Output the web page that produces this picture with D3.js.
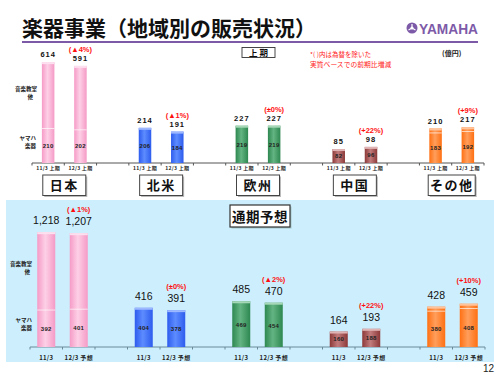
<!DOCTYPE html>
<html><head><meta charset="utf-8">
<script src="https://cdn.jsdelivr.net/npm/d3@7"></script>
<style>html,body{margin:0;padding:0;background:#fff}svg{display:block}</style>
</head><body>
<script>
const regions = ["日本","北米","欧州","中国","その他"];
const h1Total = [[614,591],[214,191],[227,227],[85,98],[210,217]];
const h1Inst  = [[210,202],[206,184],[219,219],[82,96],[183,192]];
const h1Change = ["(▲4%)","(▲1%)","(±0%)","(+22%)","(+9%)"];
const fyTotal = [[1218,1207],[416,391],[485,470],[164,193],[428,459]];
const fyInst  = [[392,401],[404,378],[469,454],[160,188],[380,408]];
const fyChange = ["(▲1%)","(±0%)","(▲2%)","(+22%)","(+10%)"];
const h1Ticks = ["11/3 上期","12/3 上期"];
const fyTicks = ["11/3","12/3 予想"];
const colors = [
  {edge:"#f59ac6", mid:"#fdd0e6", cap:"#fde0ef"},
  {edge:"#2e5cee", mid:"#5d8cff", cap:"#9db8ff"},
  {edge:"#2e8850", mid:"#63b482", cap:"#a6d8b8"},
  {edge:"#8c3838", mid:"#c27c7c", cap:"#e0b4b4"},
  {edge:"#ff7012", mid:"#ff9e5c", cap:"#ffc49c"}
];

const W=500,H=375;
const svg=d3.select("body").append("svg").attr("width",W).attr("height",H);
const defs=svg.append("defs");
colors.forEach((c,i)=>{
  const g=defs.append("linearGradient").attr("id","g"+i).attr("x1","0").attr("x2","1").attr("y1","0").attr("y2","0");
  g.append("stop").attr("offset","0%").attr("stop-color",c.edge);
  g.append("stop").attr("offset","45%").attr("stop-color",c.mid);
  g.append("stop").attr("offset","100%").attr("stop-color",c.edge);
});
const JP="'Noto Sans CJK JP','Noto Sans',sans-serif";
const LS="'Liberation Sans',Arial,sans-serif";

// title
svg.append("text").attr("x",22).attr("y",36).attr("font-family",JP).attr("font-weight","bold")
  .attr("font-size",21).attr("fill","#111").text("楽器事業（地域別の販売状況）");
svg.append("rect").attr("x",22).attr("y",41).attr("width",456).attr("height",2).attr("fill","#7d5aa8");
// logo
const purple="#7d5aa8";
svg.append("circle").attr("cx",412).attr("cy",28).attr("r",5.5).attr("fill",purple);
for(let k=0;k<3;k++){
  const a=k*Math.PI*2/3 - Math.PI/2;
  svg.append("line").attr("x1",412).attr("y1",28).attr("x2",412+4*Math.cos(a)).attr("y2",28+4*Math.sin(a))
    .attr("stroke","#fff").attr("stroke-width",1.2);
}
svg.append("circle").attr("cx",412).attr("cy",28).attr("r",1.6).attr("fill","#fff");
svg.append("text").attr("x",419).attr("y",33.5).attr("font-family",LS).attr("font-weight","bold")
  .attr("font-size",14).attr("fill",purple).attr("textLength",59).attr("lengthAdjust","spacingAndGlyphs").text("YAMAHA");

// bottom panel
svg.append("rect").attr("x",6).attr("y",200).attr("width",488).attr("height",162).attr("fill","#cdeffd");

function slotsFor(){
  const s=[];
  regions.forEach((r,i)=>{s.push(i+"a");s.push(i+"b");if(i<regions.length-1)s.push("gap"+i);});
  return s;
}

function section(o){
  const x=d3.scaleBand().domain(slotsFor()).range(o.xr).padding(0);
  const y=d3.scaleLinear().domain(o.yd).range(o.yr);
  const g=svg.append("g");
  const base=y(0);
  g.append("line").attr("x1",o.xr[0]).attr("x2",o.xr[1]).attr("y1",base).attr("y2",base)
    .attr("stroke",o.axisColor).attr("stroke-width",1);
  const bounds=x.domain().map(d=>x(d)).concat([o.xr[1]]);
  bounds.forEach(b=>g.append("line").attr("x1",b).attr("x2",b).attr("y1",base).attr("y2",base+2.5)
    .attr("stroke",o.axisColor).attr("stroke-width",1));
  regions.forEach((r,i)=>{
    ["a","b"].forEach((s,j)=>{
      const cx=x(i+s)+x.bandwidth()/2;
      const tot=o.total[i][j], inst=o.inst[i][j];
      const bx=cx-o.bw/2;
      g.append("rect").attr("x",bx).attr("y",y(tot)).attr("width",o.bw).attr("height",base-y(tot)).attr("fill","url(#g"+i+")");
      g.append("rect").attr("x",bx).attr("y",y(tot)).attr("width",o.bw).attr("height",2).attr("fill",colors[i].cap);
      if(base-y(tot) - (base-y(inst)) > 3){
        g.append("line").attr("x1",bx).attr("x2",bx+o.bw).attr("y1",y(inst)).attr("y2",y(inst))
          .attr("stroke","#fff").attr("stroke-width",0.8).attr("opacity",0.85);
      }
      g.append("text").attr("x",cx).attr("y",(base+y(inst))/2+2).attr("text-anchor","middle")
        .attr("font-family",LS).attr("font-weight","bold").attr("font-size",o.innerFs).attr("letter-spacing",0.3)
        .attr("fill","#222").text(inst);
      const vy=y(tot)-o.valOff;
      g.append("text").attr("x",cx).attr("y",vy).attr("text-anchor","middle")
        .attr("font-family",LS).attr("font-weight",o.valW).attr("font-size",o.valFs).attr("letter-spacing",o.valLs)
        .attr("fill","#111").text(d3.format(",")(tot));
      if(j===1){
        g.append("text").attr("x",cx).attr("y",vy-o.chgOff).attr("text-anchor","middle")
          .attr("font-family",LS).attr("font-weight","bold").attr("font-size",o.chgFs)
          .attr("fill","#ff1010").text(o.change[i]);
      }
      g.append("text").attr("x",cx).attr("y",base+o.tickDy).attr("text-anchor","middle")
        .attr("font-family",JP).attr("font-weight","bold").attr("font-size",o.tickFs).attr("letter-spacing",0.3)
        .attr("fill","#222").text(o.ticks[j]);
    });
  });
  o.leftLabels.forEach(l=>g.append("text").attr("x",l.x).attr("y",l.y).attr("text-anchor","end")
    .attr("font-family",JP).attr("font-weight","bold").attr("font-size",o.leftFs).attr("fill","#222").text(l.t));
  return x;
}

const xTop=section({xr:[32,484],yd:[0,700],yr:[163,48],bw:12.5,total:h1Total,inst:h1Inst,change:h1Change,
  ticks:h1Ticks,axisColor:"#555",innerFs:6,valFs:7.5,valW:"bold",valLs:1,valOff:5,chgOff:9,chgFs:7.5,tickDy:7,tickFs:5,
  leftFs:5.5,leftLabels:[{t:"音楽教室",x:37,y:91},{t:"他",x:33,y:99},{t:"ヤマハ",x:36,y:140},{t:"楽器",x:36,y:148}]});

const xBot=section({xr:[30,485],yd:[0,1400],yr:[347,215],bw:18,total:fyTotal,inst:fyInst,change:fyChange,
  ticks:fyTicks,axisColor:"#6a8a9a",innerFs:6,valFs:10.5,valW:"normal",valLs:0,valOff:8,chgOff:13,chgFs:7.5,tickDy:12.5,tickFs:6,
  leftFs:5.5,leftLabels:[{t:"音楽教室",x:32,y:266},{t:"他",x:30,y:274},{t:"ヤマハ",x:32,y:322},{t:"楽器",x:32,y:330}]});

const boxW=[43,43,43,43,47];
regions.forEach((r,i)=>{
  const cx=(xTop(i+"a")+xTop(i+"b")+xTop.bandwidth())/2;
  svg.append("rect").attr("x",cx-boxW[i]/2+1.5).attr("y",176.5).attr("width",boxW[i]).attr("height",20.5).attr("fill","#bbb");
  svg.append("rect").attr("x",cx-boxW[i]/2).attr("y",175).attr("width",boxW[i]).attr("height",20.5)
    .attr("fill","#fff").attr("stroke","#444").attr("stroke-width",1);
  svg.append("text").attr("x",cx).attr("y",190).attr("text-anchor","middle").attr("font-family",JP)
    .attr("font-weight","bold").attr("font-size",13).attr("letter-spacing",1.5).attr("fill","#111").text(r);
});

svg.append("rect").attr("x",242).attr("y",47.5).attr("width",33).attr("height",10).attr("fill","#fff").attr("stroke","#333").attr("stroke-width",0.9);
svg.append("text").attr("x",258.5).attr("y",55.8).attr("text-anchor","middle").attr("font-family",JP).attr("font-weight","bold")
  .attr("font-size",8.5).attr("fill","#111").text("上 期");
svg.append("text").attr("x",310).attr("y",56.5).attr("font-family",JP).attr("font-size",6.5).attr("fill","#ff2020").text("*( )内は為替を除いた");
svg.append("text").attr("x",310).attr("y",66.5).attr("font-family",JP).attr("font-size",6.8).attr("fill","#ff2020").text("実質ベースでの前期比増減");
svg.append("text").attr("x",442).attr("y",55.5).attr("font-family",JP).attr("font-weight","bold").attr("font-size",7).attr("fill","#222").text("(億円)");

svg.append("rect").attr("x",231.5).attr("y",206.5).attr("width",60).attr("height",22).attr("fill","#8aa").attr("opacity",0.6);
svg.append("rect").attr("x",230).attr("y",205).attr("width",60).attr("height",22).attr("fill","#fff").attr("stroke","#333").attr("stroke-width",1.2);
svg.append("text").attr("x",260).attr("y",221.5).attr("text-anchor","middle").attr("font-family",JP).attr("font-weight","bold")
  .attr("font-size",13.5).attr("letter-spacing",0.5).attr("fill","#111").text("通期予想");

svg.append("text").attr("x",494).attr("y",372).attr("text-anchor","end").attr("font-family",LS).attr("font-size",10).attr("fill","#222").text("12");
</script>
</body></html>
